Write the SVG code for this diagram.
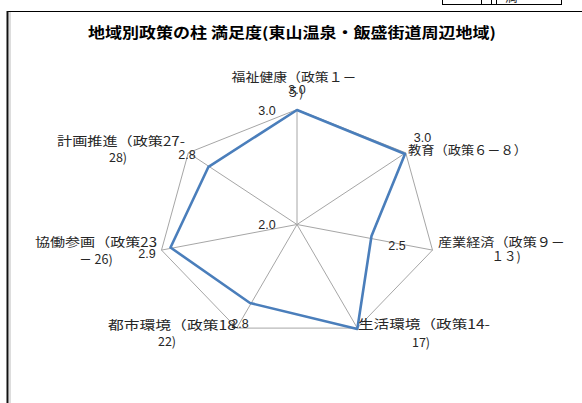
<svg xmlns="http://www.w3.org/2000/svg" width="582" height="403" viewBox="0 0 582 403">
<style>
.lbl{font-family:"Noto Sans CJK JP","Noto Sans CJK SC",sans-serif;font-size:12.5px;fill:#262626}
.num{font-family:"Liberation Sans",Arial,sans-serif;font-size:12.5px;fill:#262626;text-anchor:middle}
.grid{fill:none;stroke:#a6a6a6;stroke-width:1}
.ser{fill:none;stroke:#4a7ebb;stroke-width:2.6;stroke-linejoin:round}
</style>
<rect x="0" y="0" width="582" height="403" fill="#fff"/>
<g id="frame">
<line x1="7" y1="11.5" x2="582" y2="11.5" stroke="#000" stroke-width="1"/>
<line x1="7.5" y1="11" x2="7.5" y2="403" stroke="#111" stroke-width="2"/>
<line x1="10" y1="12" x2="10" y2="403" stroke="#bbb" stroke-width="1"/>
<rect x="442.5" y="-6" width="119" height="10.5" fill="#fff" stroke="#000" stroke-width="1"/>
<line x1="481.5" y1="-6" x2="481.5" y2="4.5" stroke="#000"/>
<line x1="491.5" y1="-6" x2="491.5" y2="4.5" stroke="#000"/>
<line x1="496.5" y1="-6" x2="496.5" y2="4.5" stroke="#000"/>
<text x="505" y="2" class="lbl" font-size="12">満</text>
</g>
<g id="title">
<text x="292" y="38" font-family="'Noto Sans CJK JP','Noto Sans CJK SC',sans-serif" font-size="14.5" font-weight="bold" fill="#000" text-anchor="middle" textLength="408" lengthAdjust="spacingAndGlyphs">地域別政策の柱 満足度(東山温泉・飯盛街道周辺地域)</text>
</g>
<g id="connectors">
<polygon class="grid" points="297,109.5 405.7,152.8 432.5,250.1 357.3,328.1 236.7,328.1 161.5,250.1 188.3,152.8"/>
<line class="grid" x1="297" y1="224.5" x2="297" y2="109.5"/>
<line class="grid" x1="297" y1="224.5" x2="405.7" y2="152.8"/>
<line class="grid" x1="297" y1="224.5" x2="432.5" y2="250.1"/>
<line class="grid" x1="297" y1="224.5" x2="357.3" y2="328.1"/>
<line class="grid" x1="297" y1="224.5" x2="236.7" y2="328.1"/>
<line class="grid" x1="297" y1="224.5" x2="161.5" y2="250.1"/>
<line class="grid" x1="297" y1="224.5" x2="188.3" y2="152.8"/>
<polygon class="ser" points="297,110 405,154 371.5,236 357.3,329 250,303 170.5,247.5 208.5,166.8"/>
</g>
<g id="axis-labels">
<text class="num" x="267" y="114.5">3.0</text>
<text class="num" x="267" y="228.5">2.0</text>
</g>
<g id="n-fukushi">
<text class="lbl" x="294" y="81.5" text-anchor="middle" textLength="125" lengthAdjust="spacingAndGlyphs">福祉健康（政策１－</text>
<text class="lbl" x="295" y="96.5" text-anchor="middle">５)</text>
<text class="num" x="297" y="93.5">3.0</text>
</g>
<g id="n-kyoiku">
<text class="lbl" x="408" y="155" textLength="119" lengthAdjust="spacingAndGlyphs">教育（政策６－８）</text>
<text class="num" x="422.5" y="141.5">3.0</text>
</g>
<g id="n-sangyo">
<text class="lbl" x="501.5" y="247" text-anchor="middle" textLength="127" lengthAdjust="spacingAndGlyphs">産業経済（政策９－</text>
<text class="lbl" x="506" y="261" text-anchor="middle">１３)</text>
<text class="num" x="397" y="249.5">2.5</text>
</g>
<g id="n-seikatsu">
<text class="lbl" x="358" y="328.5" textLength="132" lengthAdjust="spacingAndGlyphs">生活環境（政策14-</text>
<text class="lbl" x="421" y="347" text-anchor="middle">17)</text>
</g>
<g id="n-toshi">
<text class="lbl" x="108" y="329.5" textLength="128" lengthAdjust="spacingAndGlyphs">都市環境（政策18</text>
<text class="lbl" x="167" y="346" text-anchor="middle">22)</text>
<text class="num" x="240" y="327.5">2.8</text>
</g>
<g id="n-kyodo">
<text class="lbl" x="35" y="247" textLength="122" lengthAdjust="spacingAndGlyphs">協働参画（政策23</text>
<text class="lbl" x="96" y="263.5" text-anchor="middle">－ 26)</text>
<text class="num" x="147" y="257.5">2.9</text>
</g>
<g id="n-keikaku">
<text class="lbl" x="57" y="146" textLength="128" lengthAdjust="spacingAndGlyphs">計画推進（政策27-</text>
<text class="lbl" x="118" y="161.5" text-anchor="middle">28)</text>
<text class="num" x="187" y="158.5">2.8</text>
</g>
</svg>
